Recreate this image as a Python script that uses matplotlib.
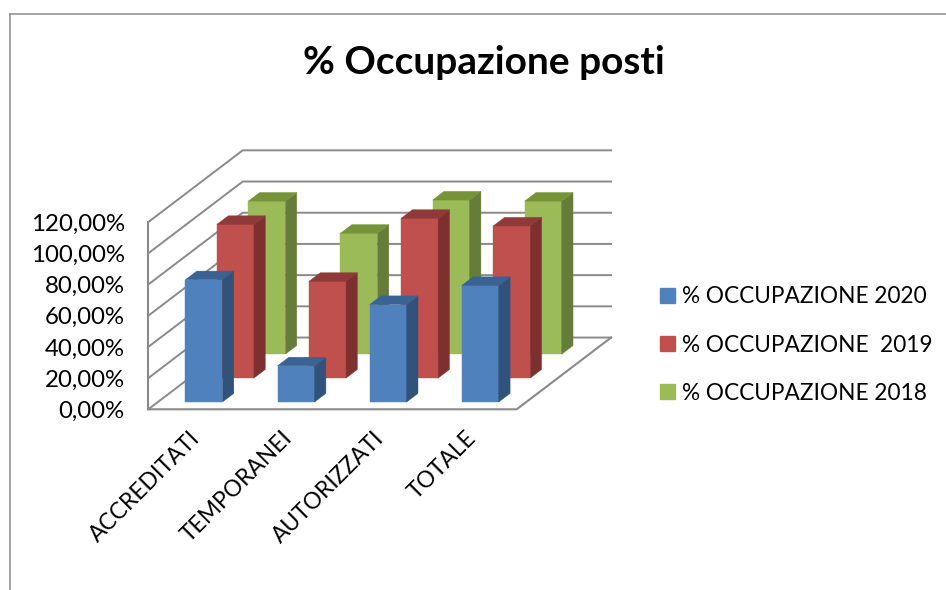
import matplotlib
matplotlib.use('Agg')
import matplotlib.pyplot as plt
from matplotlib.lines import Line2D
from matplotlib.patches import Patch, Polygon
from matplotlib.transforms import ScaledTranslation

categories = ['ACCREDITATI', 'TEMPORANEI', 'AUTORIZZATI', 'TOTALE']
occupazione_2020 = [78.4, 23.2, 62.5, 74.7]
occupazione_2019 = [98.5, 62.0, 102.4, 97.5]
occupazione_2018 = [98.1, 77.5, 98.8, 98.1]
series_names = ['% OCCUPAZIONE 2020', '% OCCUPAZIONE  2019', '% OCCUPAZIONE 2018']
y_ticks = [0, 20, 40, 60, 80, 100, 120]
y_labels = ['0,00%', '20,00%', '40,00%', '60,00%', '80,00%', '100,00%', '120,00%']

W, H = 946, 590
FONT = 'Lato'
GRID = '#8a8a8a'

# oblique projection: one unit of depth moves this far in data units
DEPTH_X = 1.025
DEPTH_Y = 46.0
BAR_W = 0.402
BAR_D = 0.12


def project(x, value, depth):
    return x + depth * DEPTH_X, value + depth * DEPTH_Y


def draw_bar(ax, x, value, depth, front, side, top):
    x0, x1 = x - BAR_W / 2, x + BAR_W / 2
    d0, d1 = depth - 0.13 / 2, depth - 0.13 / 2 + BAR_D
    faces = [
        ([(x0, 0, d0), (x1, 0, d0), (x1, value, d0), (x0, value, d0)], front),
        ([(x1, 0, d0), (x1, 0, d1), (x1, value, d1), (x1, value, d0)], side),
        ([(x0, value, d0), (x1, value, d0), (x1, value, d1), (x0, value, d1)], top),
    ]
    for corners, color in faces:
        pts = [project(*c) for c in corners]
        ax.add_patch(Polygon(pts, closed=True, facecolor=color, edgecolor=color,
                             linewidth=0.3, zorder=3, clip_on=False))


plt.rcParams['font.family'] = [FONT, 'DejaVu Sans']
fig = plt.figure(figsize=(W / 100, H / 100), dpi=100)
ax = fig.add_axes([148.3 / W, (H - 409.3) / H, 368.4 / W, 187.2 / H])
ax.set_xlim(0, 4)
ax.set_ylim(0, 120)
for spine in ax.spines.values():
    spine.set_visible(False)
ax.patch.set_visible(False)

# walls and floor
for v in y_ticks:
    pts = [project(0, v, 0), project(0, v, 1), project(4, v, 1)]
    ax.add_line(Line2D([p[0] for p in pts], [p[1] for p in pts], color=GRID,
                       linewidth=1.4, zorder=1, clip_on=False))
floor = [project(0, 0, 0), project(4, 0, 0), project(4, 0, 1)]
ax.add_line(Line2D([p[0] for p in floor], [p[1] for p in floor], color=GRID,
                   linewidth=1.5, zorder=1, clip_on=False))
ax.add_line(Line2D([0, 0], [0, 120], color=GRID, linewidth=1.5, zorder=1, clip_on=False))

series = [
    (occupazione_2018, 5 / 6, '#9BBB59', '#667D39', '#779338'),
    (occupazione_2019, 1 / 2, '#C0504D', '#7D302F', '#8F3A38'),
    (occupazione_2020, 1 / 6, '#4F81BD', '#31527B', '#3A6393'),
]
for values, depth, front, side, top in series:
    for i, val in enumerate(values):
        draw_bar(ax, i + 0.5, val, depth, front, side, top)

ax.set_yticks(y_ticks)
ax.set_yticklabels(y_labels, fontsize=17.3)
ax.tick_params(axis='y', length=0, pad=17)
ax.set_xticks([i + 0.5 for i in range(len(categories))])
ax.set_xticklabels(categories, fontsize=16.4, rotation=45, ha='right',
                   va='top', rotation_mode='anchor')
ax.tick_params(axis='x', length=0, pad=13)
shift = ScaledTranslation(-5 / 100, 0, fig.dpi_scale_trans)
for lab in ax.get_xticklabels():
    lab.set_transform(lab.get_transform() + shift)

handles = [Patch(color=c) for c in ['#4F81BD', '#C0504D', '#9BBB59']]
fig.legend(handles, series_names, loc='center left', bbox_to_anchor=(660 / W, (H - 345) / H),
           frameon=False, fontsize=16.3, handlelength=0.66, handleheight=0.66,
           handletextpad=0.3, labelspacing=1.2, borderpad=0, borderaxespad=0)

fig.text(484 / W, (H - 62) / H, '% Occupazione posti', ha='center', va='center',
         fontsize=28, fontweight='bold')

# chart border, only top and left are inside the crop
fig.add_artist(Line2D([9.5 / W, 1], [(H - 14) / H, (H - 14) / H], color='#969696', linewidth=1.2))
fig.add_artist(Line2D([9.5 / W, 9.5 / W], [(H - 14) / H, 0], color='#969696', linewidth=1.2))

fig.savefig('out.png', dpi=100)
